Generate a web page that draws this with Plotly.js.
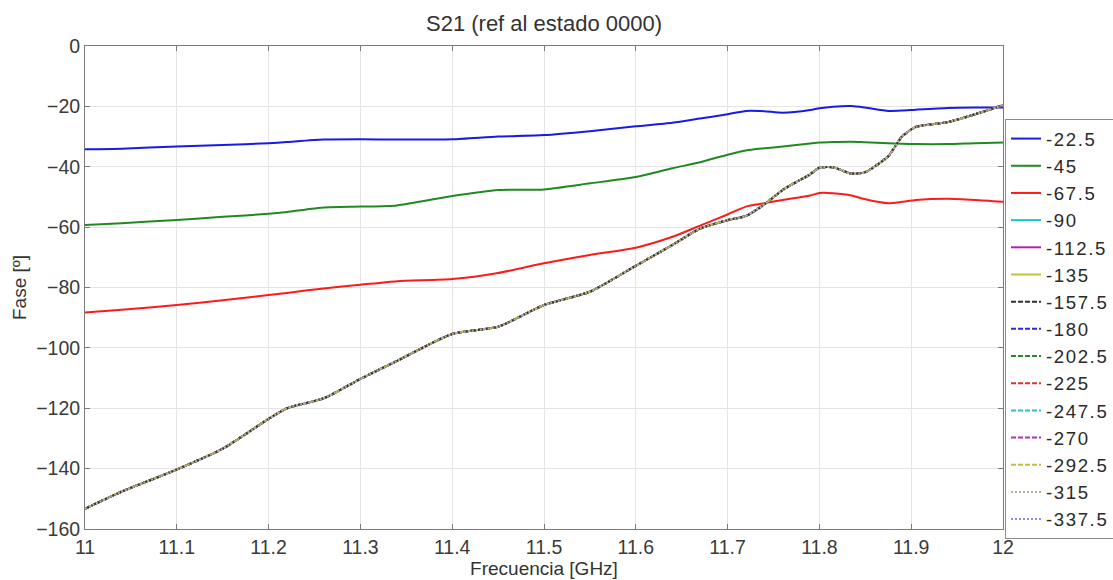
<!DOCTYPE html>
<html>
<head>
<meta charset="utf-8">
<script src="https://cdn.plot.ly/plotly-3.0.1.min.js"></script>
<style>
  html, body { margin: 0; padding: 0; background: #fff; }
  #chart { width: 1113px; height: 580px; }
  .legendtext { letter-spacing: 1.6px; }
</style>
</head>
<body>
<div id="chart"></div>
<script>
// Frequency grid [GHz]
const freq = [11.00, 11.04, 11.10, 11.15, 11.20, 11.22, 11.26, 11.30, 11.34, 11.40,
              11.45, 11.50, 11.55, 11.60, 11.64, 11.67, 11.70, 11.72, 11.74, 11.76,
              11.79, 11.80, 11.815, 11.835, 11.85, 11.875, 11.89, 11.905, 11.94, 11.97, 12.00];

// Relative S21 phase [deg] per phase-shifter state
const phase_22_5 = [-34.2, -34.0, -33.3, -32.8, -32.2, -31.8, -31.0, -30.9, -31.0, -30.9,
                    -30.0, -29.5, -28.2, -26.6, -25.4, -24.0, -22.6, -21.5, -21.6, -22.1,
                    -21.2, -20.6, -20.1, -19.9, -20.4, -21.5, -21.4, -21.1, -20.5, -20.4, -20.4];
const phase_45   = [-59.3, -58.7, -57.6, -56.6, -55.6, -55.0, -53.5, -53.2, -52.8, -49.7,
                    -47.7, -47.5, -45.5, -43.4, -40.5, -38.5, -36.0, -34.6, -33.9, -33.3,
                    -32.3, -32.0, -31.8, -31.7, -31.9, -32.2, -32.4, -32.5, -32.5, -32.2, -32.0];
const phase_67_5 = [-88.3, -87.4, -85.8, -84.2, -82.5, -81.8, -80.3, -79.1, -77.9, -77.2,
                    -75.2, -72.0, -69.2, -66.8, -63.2, -59.5, -55.8, -53.2, -52.1, -51.0,
                    -49.5, -48.7, -48.8, -49.5, -50.8, -52.1, -51.6, -51.0, -50.6, -51.0, -51.6];
// States -90 ... -337.5 lie on top of each other
const phase_rest = [-153.3, -147.6, -140.3, -133.4, -123.5, -120.0, -116.7, -110.3, -104.3, -95.4,
                    -93.0, -85.8, -81.4, -72.8, -65.9, -60.5, -57.7, -56.3, -52.5, -47.7,
                    -42.5, -40.3, -40.2, -42.3, -41.8, -36.5, -30.0, -26.8, -25.2, -22.6, -19.6];

const stateNames = ['-22.5', '-45', '-67.5', '-90', '-112.5', '-135', '-157.5', '-180',
                    '-202.5', '-225', '-247.5', '-270', '-292.5', '-315', '-337.5'];
const stateData = [phase_22_5, phase_45, phase_67_5, phase_rest, phase_rest, phase_rest, phase_rest,
                   phase_rest, phase_rest, phase_rest, phase_rest, phase_rest, phase_rest, phase_rest, phase_rest];
const lineColors = ['#1a1ae6', '#1f8a1f', '#ff1a1a', '#20c4c4', '#b020b0', '#c4c430', '#303030',
                    '#2a2ae6', '#2a8a2a', '#e03030', '#30c0c0', '#b030b0', '#c0c040', '#b4b490', '#8c8cf0'];
const lineDashes = ['solid', 'solid', 'solid', 'solid', 'solid', 'solid', '5px,2px',
                    '5px,2px', '5px,2px', '5px,2px', '5px,2px', '5px,2px', '5px,2px', '2px,2px', '2px,2px'];
// Stacking order of the curves (last one on top); the legend keeps the state order
const drawOrder = [0, 1, 2, 3, 4, 5, 7, 8, 9, 10, 11, 12, 14, 6, 13];

const FONT = 'Liberation Sans, Arial, sans-serif';

const traces = drawOrder.map(i => ({
  type: 'scatter',
  mode: 'lines',
  name: stateNames[i],
  legendrank: i + 1,
  x: freq,
  y: stateData[i],
  line: { color: lineColors[i], width: 2, dash: lineDashes[i], shape: 'spline', smoothing: 0.6 },
  hoverinfo: 'x+y+name'
}));

const axisCommon = {
  showline: true,
  linecolor: '#7a7a7a',
  linewidth: 1,
  mirror: 'ticks',
  ticks: 'inside',
  ticklen: 5,
  tickcolor: '#7a7a7a',
  showgrid: true,
  gridcolor: '#e4e4e4',
  gridwidth: 1,
  zeroline: false,
  tickfont: { family: FONT, size: 19.5, color: '#3a3a3a' }
};

const layout = {
  width: 1113,
  height: 580,
  paper_bgcolor: '#ffffff',
  plot_bgcolor: '#ffffff',
  margin: { l: 85, r: 110, t: 46, b: 51, autoexpand: false },
  title: {
    text: 'S21 (ref al estado 0000)',
    font: { family: FONT, size: 22, color: '#333333' },
    xref: 'paper', x: 0.5, xanchor: 'center',
    yref: 'container', y: 1 - 23 / 580, yanchor: 'middle'
  },
  xaxis: Object.assign({}, axisCommon, {
    range: [11, 12],
    tick0: 11,
    dtick: 0.1,
    ticklabelstandoff: 1,
    title: { text: 'Frecuencia [GHz]', font: { family: FONT, size: 19, color: '#333333' }, standoff: 0 }
  }),
  yaxis: Object.assign({}, axisCommon, {
    range: [-160, 0],
    tick0: 0,
    dtick: 20,
    title: { text: 'Fase [º]', font: { family: FONT, size: 19, color: '#333333' }, standoff: 4 }
  }),
  showlegend: true,
  legend: {
    x: (1005 - 85) / 918,
    xanchor: 'left',
    y: (529 - 119) / 483,
    yanchor: 'top',
    bgcolor: '#ffffff',
    bordercolor: '#8a8a8a',
    borderwidth: 1,
    font: { family: FONT, size: 18.6, color: '#2a2a2a' },
    itemwidth: 30,
    tracegroupgap: 0
  }
};

Plotly.newPlot('chart', traces, layout, { displayModeBar: false, staticPlot: true });
</script>
</body>
</html>
